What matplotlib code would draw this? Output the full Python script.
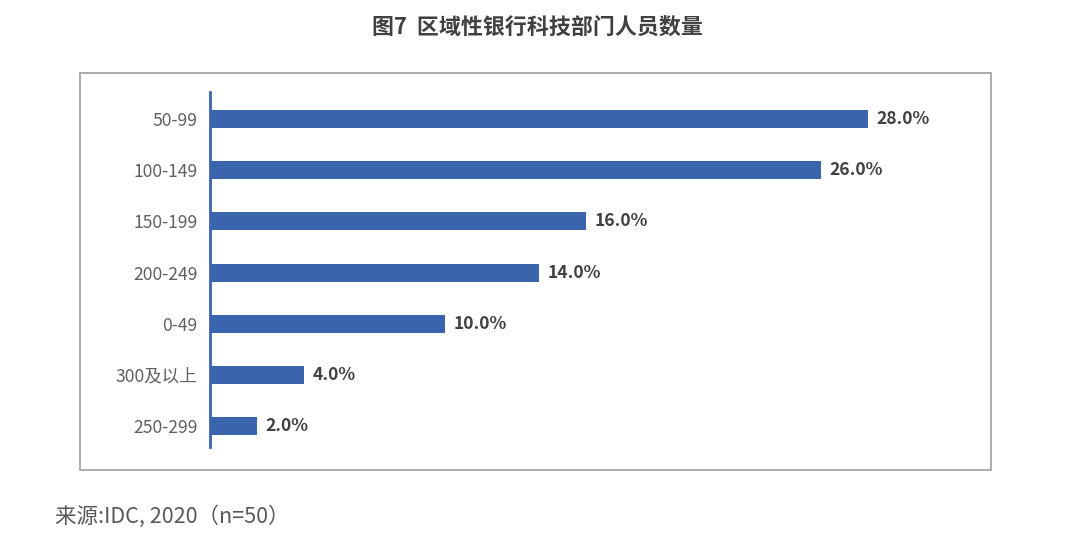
import matplotlib
matplotlib.use("Agg")
import matplotlib.pyplot as plt
from matplotlib.patches import Rectangle

plt.rcParams['font.family'] = ['Noto Sans CJK SC', 'DejaVu Sans']

categories = ["50-99", "100-149", "150-199", "200-249", "0-49", "300及以上", "250-299"]
values = [28.0, 26.0, 16.0, 14.0, 10.0, 4.0, 2.0]
title = "图7  区域性银行科技部门人员数量"
source = "来源:IDC, 2020（n=50）"

bar_color = "#3A65AD"
fig = plt.figure(figsize=(10.8, 5.53), dpi=100)
fig.patches.append(Rectangle((80/1080, 1-470/553), (991-80)/1080, (470-73)/553,
                             transform=fig.transFigure, fill=False,
                             edgecolor="#A6A6A6", linewidth=1.3))

ax = fig.add_axes([210/1080, 1-447/553, 750/1080, (447-92)/553])
pos = list(range(len(categories)))
ax.barh(pos, values, height=0.35, color=bar_color)
ax.set_ylim(len(categories) - 1 + 0.41, -0.53)
ax.set_xlim(0, 28 * 750 / 658)
for s in ["top", "right", "bottom"]:
    ax.spines[s].set_visible(False)
ax.spines["left"].set_color(bar_color)
ax.spines["left"].set_linewidth(2)
ax.set_xticks([])
ax.set_yticks(pos)
ax.set_yticklabels(categories, fontsize=12.6, color="#606060")
ax.tick_params(axis="y", length=0, pad=9)
for p, v in zip(pos, values):
    ax.text(v + 0.35, p, f"{v:.1f}%", va="center", ha="left",
            fontsize=12.6, fontweight="bold", color="#404040")

fig.text(537/1080, 1-28/553, title, ha="center", va="center",
         fontsize=15.8, fontweight="bold", color="#404040")
fig.text(55/1080, 1-517/553, source, ha="left", va="center",
         fontsize=15.5, color="#595959")

fig.savefig("out.png", dpi=100)
